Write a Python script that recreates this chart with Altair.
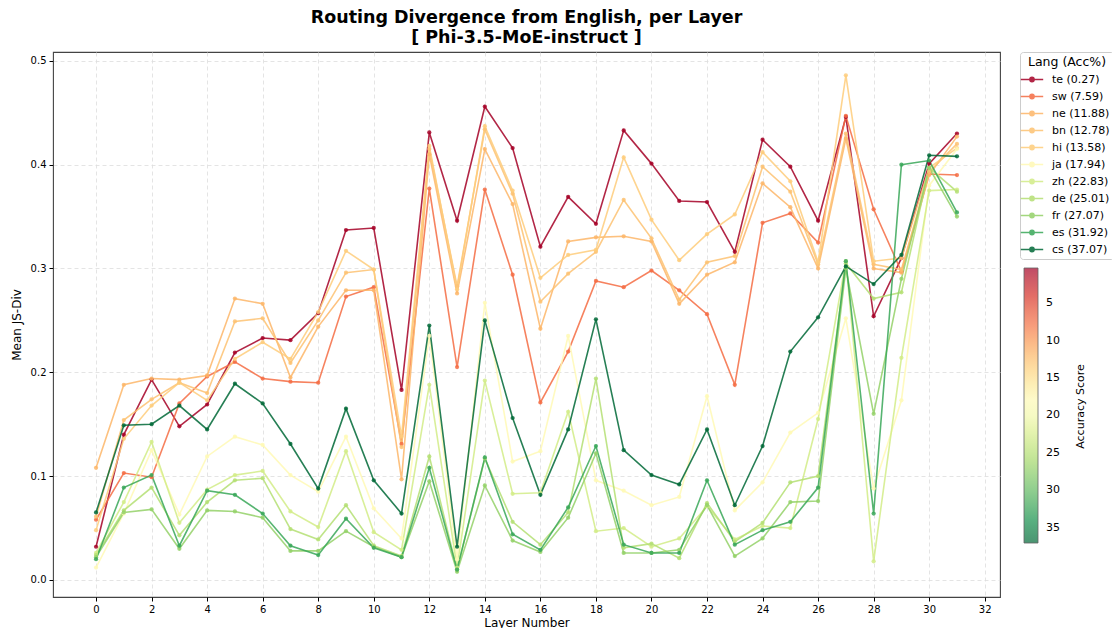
import altair as alt
import pandas as pd
import numpy as np

layers = list(range(32))
langs = ["te", "sw", "ne", "bn", "hi", "ja", "zh", "de", "fr", "es", "cs"]
acc = [0.27, 7.59, 11.88, 12.78, 13.58, 17.94, 22.83, 25.01, 27.07, 31.92, 37.07]

te = [0.032, 0.140, 0.193, 0.148, 0.169, 0.219, 0.233, 0.231, 0.257, 0.337, 0.339, 0.183, 0.431, 0.346, 0.456, 0.416,
      0.321, 0.369, 0.343, 0.433, 0.401, 0.365, 0.364, 0.316, 0.424, 0.398, 0.346, 0.446, 0.254, 0.310, 0.401, 0.430]
sw = [0.058, 0.103, 0.099, 0.170, 0.196, 0.210, 0.194, 0.191, 0.190, 0.273, 0.282, 0.131, 0.377, 0.205, 0.376, 0.294,
      0.171, 0.220, 0.288, 0.282, 0.298, 0.279, 0.256, 0.188, 0.344, 0.353, 0.325, 0.447, 0.357, 0.297, 0.391, 0.390]
ne = [0.108, 0.188, 0.194, 0.193, 0.197, 0.271, 0.266, 0.195, 0.244, 0.279, 0.279, 0.097, 0.410, 0.276, 0.415, 0.362,
      0.242, 0.326, 0.330, 0.331, 0.326, 0.266, 0.294, 0.306, 0.382, 0.359, 0.300, 0.425, 0.300, 0.296, 0.390, 0.427]
bn = [0.061, 0.154, 0.174, 0.190, 0.180, 0.249, 0.252, 0.209, 0.250, 0.296, 0.299, 0.128, 0.415, 0.283, 0.434, 0.372,
      0.268, 0.295, 0.316, 0.366, 0.329, 0.270, 0.306, 0.312, 0.398, 0.374, 0.304, 0.430, 0.304, 0.299, 0.393, 0.420]
hi = [0.048, 0.136, 0.168, 0.190, 0.173, 0.213, 0.229, 0.213, 0.258, 0.317, 0.299, 0.138, 0.418, 0.280, 0.437, 0.375,
      0.291, 0.313, 0.318, 0.407, 0.347, 0.308, 0.333, 0.352, 0.412, 0.384, 0.306, 0.486, 0.307, 0.310, 0.397, 0.416]
ja = [0.012, 0.064, 0.125, 0.063, 0.119, 0.138, 0.130, 0.101, 0.085, 0.138, 0.069, 0.040, 0.235, 0.020, 0.267, 0.114,
      0.124, 0.235, 0.096, 0.086, 0.072, 0.080, 0.177, 0.067, 0.094, 0.142, 0.161, 0.252, 0.088, 0.173, 0.380, 0.415]
zh = [0.026, 0.075, 0.133, 0.055, 0.087, 0.101, 0.105, 0.066, 0.051, 0.124, 0.046, 0.029, 0.188, 0.012, 0.192, 0.083,
      0.084, 0.162, 0.047, 0.050, 0.032, 0.040, 0.071, 0.039, 0.052, 0.050, 0.155, 0.307, 0.018, 0.214, 0.375, 0.376]
de = [0.024, 0.067, 0.089, 0.043, 0.075, 0.096, 0.098, 0.049, 0.039, 0.072, 0.033, 0.023, 0.119, 0.010, 0.117, 0.056,
      0.034, 0.065, 0.194, 0.031, 0.035, 0.021, 0.074, 0.037, 0.055, 0.094, 0.100, 0.305, 0.271, 0.277, 0.397, 0.374]
fr = [0.022, 0.065, 0.068, 0.030, 0.067, 0.066, 0.060, 0.028, 0.028, 0.047, 0.032, 0.022, 0.095, 0.008, 0.091, 0.038,
      0.027, 0.060, 0.122, 0.026, 0.026, 0.029, 0.072, 0.023, 0.040, 0.075, 0.076, 0.300, 0.160, 0.290, 0.397, 0.350]
es = [0.020, 0.089, 0.101, 0.033, 0.086, 0.082, 0.064, 0.033, 0.024, 0.059, 0.031, 0.022, 0.108, 0.010, 0.118, 0.044,
      0.029, 0.070, 0.129, 0.034, 0.026, 0.026, 0.096, 0.034, 0.048, 0.056, 0.089, 0.307, 0.064, 0.400, 0.404, 0.354]
cs = [0.065, 0.149, 0.150, 0.168, 0.145, 0.189, 0.170, 0.131, 0.088, 0.165, 0.096, 0.064, 0.245, 0.032, 0.250, 0.156,
      0.082, 0.145, 0.251, 0.125, 0.101, 0.092, 0.145, 0.072, 0.129, 0.220, 0.253, 0.302, 0.285, 0.313, 0.409, 0.408]

series = [te, sw, ne, bn, hi, ja, zh, de, fr, es, cs]
x_ticks = list(range(0, 33, 2))
y_ticks = [0.0, 0.1, 0.2, 0.3, 0.4, 0.5]
colorbar_ticks = [5, 10, 15, 20, 25, 30, 35]

# RdYlGn colormap anchors (style)
rdylgn = ["#a50026", "#d73027", "#f46d43", "#fdae61", "#fee08b", "#ffffbf",
          "#d9ef8b", "#a6d96a", "#66bd63", "#1a9850", "#006837"]


def hex2rgb(h):
    return np.array([int(h[i:i + 2], 16) for i in (1, 3, 5)], dtype=float)


anchors = np.array([hex2rgb(h) for h in rdylgn])
pos = np.linspace(0, 1, len(rdylgn))
amin, amax = min(acc), max(acc)


def cmap(v):
    t = (v - amin) / (amax - amin)
    rgb = [np.interp(t, pos, anchors[:, k]) for k in range(3)]
    return "#%02x%02x%02x" % tuple(int(round(c)) for c in rgb)


labels = [f"{l} ({a:.2f})" for l, a in zip(langs, acc)]
colors = [cmap(a) for a in acc]

rows = []
for lab, vals in zip(labels, series):
    for layer, v in zip(layers, vals):
        rows.append({"layer": layer, "jsdiv": v, "label": lab})
df = pd.DataFrame(rows)
acc_df = pd.DataFrame({"label": labels, "acc": acc})

FONT = "DejaVu Sans"

x_enc = alt.X("layer:Q", scale=alt.Scale(domain=[-1.55, 32.55], nice=False, zero=False),
              axis=alt.Axis(values=x_ticks, title="Layer Number", format="d"))
y_enc = alt.Y("jsdiv:Q", scale=alt.Scale(domain=[-0.0164, 0.5085], nice=False, zero=False),
              axis=alt.Axis(values=y_ticks, title="Mean JS-Div", format=".1f"))

legend_sym = alt.Legend(
    title="Lang (Acc%)", orient="none", legendX=967, legendY=0,
    symbolType="M-1.6,0L1.6,0M-0.3,0A0.3,0.3 0 1,0 0.3,0A0.3,0.3 0 1,0 -0.3,0",
    symbolSize=196, symbolStrokeWidth=1.6, symbolOpacity=0.85,
    labelFontSize=11, titleFontSize=12.5, titleFontWeight="normal",
    labelFont=FONT, titleFont=FONT, labelColor="black", titleColor="black",
    fillColor="white", strokeColor="#cccccc", cornerRadius=3, padding=4,
    rowPadding=3, titlePadding=3, titleAnchor="middle", labelOffset=12, labelLimit=200,
)

color_enc = alt.Color("label:N", scale=alt.Scale(domain=labels, range=colors),
                      sort=labels, legend=legend_sym)

lines = alt.Chart(df).mark_line(strokeWidth=1.6, opacity=0.85).encode(
    x=x_enc, y=y_enc, color=color_enc, detail="label:N"
)
points = alt.Chart(df).mark_circle(size=18, opacity=0.85).encode(
    x=x_enc, y=y_enc, color=color_enc
)

# descending domain so the gradient runs red (low) at top to green (high) at bottom
grad_domain = list(np.linspace(amax, amin, len(rdylgn)))
grad_range = rdylgn[::-1]
colorbar = alt.Chart(acc_df).mark_point(size=0, filled=True).encode(
    y=alt.Y("acc:Q", scale=alt.Scale(domain=[amin, amax]),
            axis=alt.Axis(orient="right", title="Accuracy Score", titleAngle=270,
                          titleX=80, titleY=354, titleAlign="center", titleBaseline="middle",
                          titleFontSize=11, labels=False, ticks=False, domain=False, grid=False)),
    fill=alt.Fill("acc:Q", scale=alt.Scale(domain=grad_domain, range=grad_range),
                  legend=alt.Legend(
                      title=None, orient="none", legendX=971, legendY=216,
                      direction="vertical", gradientLength=275, gradientThickness=14,
                      values=colorbar_ticks,
                      labelFontSize=11, labelFont=FONT, labelColor="black",
                      gradientStrokeColor="#222222", gradientStrokeWidth=0.8,
                      labelOffset=8, padding=0,
                  )),
)

chart = alt.layer(alt.layer(lines, points), colorbar).resolve_scale(y="independent").properties(
    width=947, height=545,
    title=alt.TitleParams(
        text=["Routing Divergence from English, per Layer", "[ Phi-3.5-MoE-instruct ]"],
        fontSize=17.5, fontWeight="bold", font=FONT, anchor="middle", color="black",
        lineHeight=20, offset=5,
    ),
    autosize=alt.AutoSizeParams(type="none"),
    padding={"left": 45, "top": 44, "right": 112, "bottom": 31},
).configure_view(stroke="#444444", strokeWidth=1.1).configure_axis(
    grid=True, gridDash=[4, 3], gridColor="#dddddd", gridWidth=0.8,
    domain=False, tickColor="black", tickSize=4, labelFontSize=10, labelColor="black",
    labelFont=FONT, titleFont=FONT, titleFontSize=12, titleFontWeight="normal", titleColor="black",
    labelPadding=3,
).configure_axisX(titlePadding=3).configure_axisLeft(titlePadding=7)

chart.save("out.html", embed_options={"renderer": "svg", "actions": False})
